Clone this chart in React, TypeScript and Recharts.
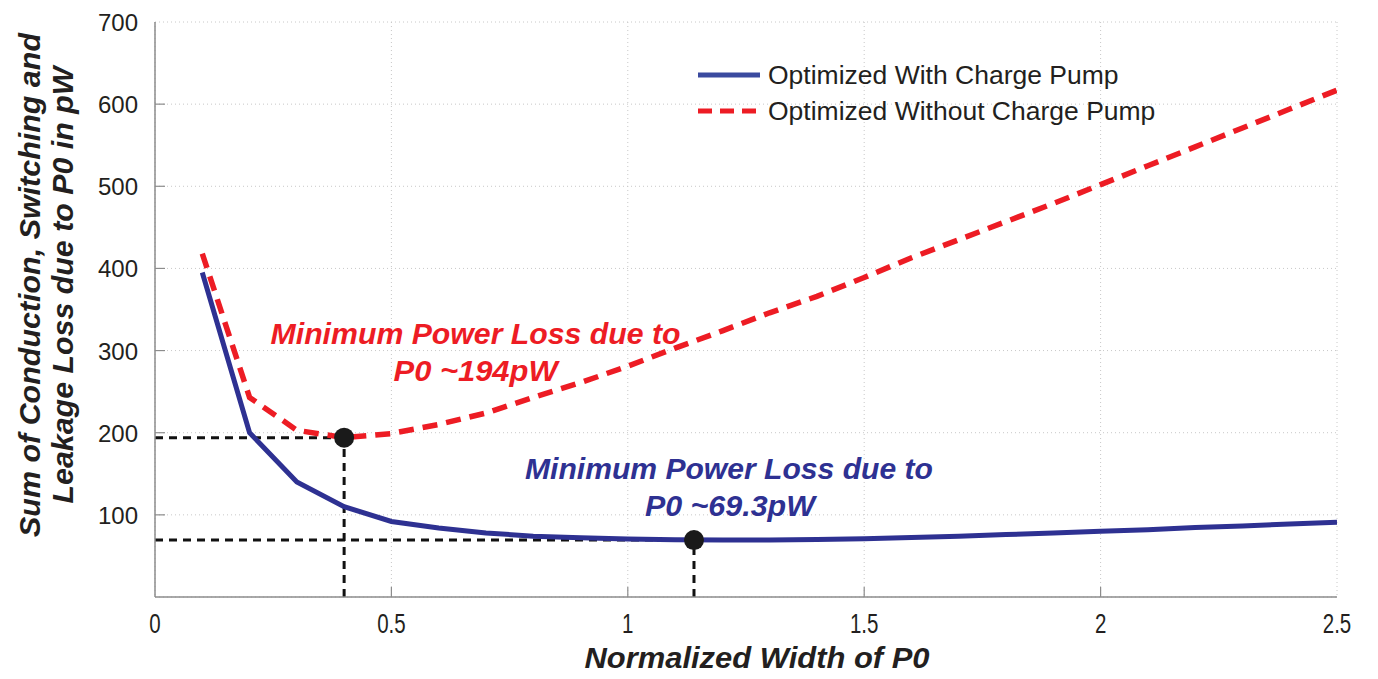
import React from "react";
import {
  ComposedChart,
  Line,
  Scatter,
  XAxis,
  YAxis,
  CartesianGrid,
  ReferenceLine,
  ReferenceDot,
  Legend,
} from "recharts";

// normalized width of P0
const widths = [
  0.1, 0.2, 0.3, 0.4, 0.5, 0.6, 0.7, 0.8, 0.9, 1.0, 1.1, 1.2, 1.3, 1.4, 1.5,
  1.6, 1.7, 1.8, 1.9, 2.0, 2.1, 2.2, 2.3, 2.4, 2.5,
];
// loss in pW
const withPump = [
  395, 200, 140, 110, 92, 84, 78, 74, 72, 70.5, 69.6, 69.3, 69.5, 70, 71, 72.5,
  74, 76, 78, 80, 82, 84.5, 86.5, 89, 91,
];
const withoutPump = [
  418, 243, 203, 194, 199, 210, 224, 243, 261, 281, 303, 324, 346, 366, 389,
  413, 435, 457, 479, 502, 525, 548, 571, 594, 617,
];

const xTicks = [0, 0.5, 1, 1.5, 2, 2.5];
const yTicks = [100, 200, 300, 400, 500, 600, 700];

// minimum points (width, loss)
const minima = [
  { w: 0.4, v: 194 },
  { w: 1.14, v: 69.3 },
];

const seriesNames = ["Optimized With Charge Pump", "Optimized Without Charge Pump"];

const BLUE = "#2e3192";
const RED = "#ed1c24";
const AXIS = "#8c8c8c";
const TXT = "#231f20";
const FONT = "'Liberation Sans', Arial, sans-serif";

const withData = widths.map((w, i) => ({ w, v: withPump[i] }));
const withoutData = widths.map((w, i) => ({ w, v: withoutPump[i] }));

const BottomTick = (props: any) => {
  const { x, y, payload } = props;
  return (
    <g>
      {payload.value !== 0 && payload.value !== 2.5 && (
        <line x1={x} x2={x} y1={y} y2={y - 10} stroke={AXIS} strokeWidth={1.2} />
      )}
      <text
        transform={`translate(${x}, ${y + 36}) scale(0.76, 1)`}
        textAnchor="middle"
        fontFamily={FONT}
        fontSize={27}
        fill={TXT}
      >
        {payload.value}
      </text>
    </g>
  );
};

const TopTick = (props: any) => {
  const { x, y, payload } = props;
  if (payload.value === 0 || payload.value === 2.5) return null;
  return <line x1={x} x2={x} y1={y} y2={y + 10} stroke={AXIS} strokeWidth={1.2} />;
};

const LeftTick = (props: any) => {
  const { x, y, payload } = props;
  return (
    <g>
      {payload.value !== 700 && (
        <line x1={x} x2={x + 10} y1={y} y2={y} stroke={AXIS} strokeWidth={1.2} />
      )}
      <text x={x - 17} y={y + 9} textAnchor="end" fontFamily={FONT} fontSize={24} fill={TXT}>
        {payload.value}
      </text>
    </g>
  );
};

const RightTick = (props: any) => {
  const { x, y, payload } = props;
  if (payload.value === 700) return null;
  return <line x1={x} x2={x - 10} y1={y} y2={y} stroke={AXIS} strokeWidth={1.2} />;
};

const LegendBox = () => (
  <div style={{ fontFamily: FONT, fontSize: 26.5, color: TXT }}>
    {seriesNames.map((name, i) => (
      <div key={name} style={{ display: "flex", alignItems: "center", height: 36 }}>
        <svg width={70} height={10}>
          <line
            x1={0}
            x2={62}
            y1={5}
            y2={5}
            stroke={i === 0 ? "#3a4a9f" : RED}
            strokeWidth={5}
            strokeDasharray={i === 0 ? undefined : "14 8"}
          />
        </svg>
        <span>{name}</span>
      </div>
    ))}
  </div>
);

const note = (text: string, color: string, len: number) => (p: any) => {
  const vb = p.viewBox || {};
  const cx = vb.x + (vb.width || 0) / 2;
  const cy = vb.y + (vb.height || 0) / 2;
  return (
    <text
      x={cx}
      y={cy + 11}
      textAnchor="middle"
      fontFamily={FONT}
      fontSize={30}
      fontWeight="bold"
      fontStyle="italic"
      fill={color}
      textLength={len}
      lengthAdjust="spacingAndGlyphs"
    >
      {text}
    </text>
  );
};

const XTitle = (p: any) => {
  const vb = p.viewBox;
  return (
    <text
      x={757 - 8}
      y={vb.y + 71}
      textAnchor="middle"
      fontFamily={FONT}
      fontSize={30}
      fontWeight="bold"
      fontStyle="italic"
      fill={TXT}
      textLength={345}
      lengthAdjust="spacingAndGlyphs"
    >
      Normalized Width of P0
    </text>
  );
};

const YTitle = () => (
  <g>
    <text
      transform="translate(21, 277) rotate(-90)"
      textAnchor="middle"
      dominantBaseline="central"
      fontFamily={FONT}
      fontSize={30}
      fontWeight="bold"
      fontStyle="italic"
      fill={TXT}
      textLength={504}
      lengthAdjust="spacingAndGlyphs"
    >
      Sum of Conduction, Switching and
    </text>
    <text
      transform="translate(54, 277) rotate(-90)"
      textAnchor="middle"
      dominantBaseline="central"
      fontFamily={FONT}
      fontSize={30}
      fontWeight="bold"
      fontStyle="italic"
      fill={TXT}
      textLength={437}
      lengthAdjust="spacingAndGlyphs"
    >
      Leakage  Loss due to P0 in pW
    </text>
  </g>
);

const dash = { stroke: "#111", strokeWidth: 3, strokeDasharray: "8 6" };

export default function App() {
  return (
    <ComposedChart
      width={1370}
      height={671}
      margin={{ top: 14, right: 41, left: 0, bottom: 0 }}
      style={{ background: "#fff" }}
    >
      <CartesianGrid stroke="#c8c8c8" strokeDasharray="1 3" />
      <XAxis
        type="number"
        dataKey="w"
        domain={[0, 2.5]}
        ticks={xTicks}
        height={82}
        allowDataOverflow
        axisLine={{ stroke: AXIS, strokeWidth: 1.5 }}
        tickLine={false}
        tickSize={0}
        tickMargin={0}
        tick={<BottomTick />}
        interval={0}
        label={<XTitle />}
      />
      <XAxis
        xAxisId="top"
        orientation="top"
        type="number"
        dataKey="w"
        domain={[0, 2.5]}
        ticks={xTicks}
        height={0}
        axisLine={{ stroke: AXIS, strokeWidth: 1.5 }}
        tickLine={false}
        tickSize={0}
        tick={<TopTick />}
        interval={0}
      />
      <YAxis
        type="number"
        domain={[0, 700]}
        ticks={yTicks}
        width={147}
        allowDataOverflow
        axisLine={{ stroke: AXIS, strokeWidth: 1.5 }}
        tickLine={false}
        tickSize={0}
        tickMargin={0}
        tick={<LeftTick />}
        interval={0}
        label={<YTitle />}
      />
      <YAxis
        yAxisId="right"
        orientation="right"
        type="number"
        domain={[0, 700]}
        ticks={yTicks}
        width={0}
        axisLine={{ stroke: AXIS, strokeWidth: 1.5 }}
        tickLine={false}
        tickSize={0}
        tick={<RightTick />}
        interval={0}
      />

      {minima.map((m) => (
        <ReferenceLine key={`h${m.w}`} segment={[{ x: 0, y: m.v }, { x: m.w, y: m.v }]} {...dash} />
      ))}
      {minima.map((m) => (
        <ReferenceLine key={`v${m.w}`} segment={[{ x: m.w, y: 0 }, { x: m.w, y: m.v }]} {...dash} />
      ))}

      <Line
        data={withData}
        dataKey="v"
        name={seriesNames[0]}
        stroke={BLUE}
        strokeWidth={5}
        dot={false}
        activeDot={false}
        isAnimationActive={false}
      />
      <Line
        data={withoutData}
        dataKey="v"
        name={seriesNames[1]}
        stroke={RED}
        strokeWidth={5.5}
        strokeDasharray="15 9"
        dot={false}
        activeDot={false}
        isAnimationActive={false}
      />
      <Scatter
        data={minima}
        dataKey="v"
        fill="#1a1a1a"
        isAnimationActive={false}
        shape={(p: any) => <circle cx={p.cx} cy={p.cy} r={10} fill="#1a1a1a" />}
      />

      <ReferenceDot x={0.678} y={321} r={0} stroke="none" fill="none"
        label={note("Minimum Power Loss due to", RED, 410)} />
      <ReferenceDot x={0.678} y={276} r={0} stroke="none" fill="none"
        label={note("P0 ~194pW", RED, 164)} />
      <ReferenceDot x={1.214} y={157} r={0} stroke="none" fill="none"
        label={note("Minimum Power Loss due to", BLUE, 408)} />
      <ReferenceDot x={1.216} y={112} r={0} stroke="none" fill="none"
        label={note("P0 ~69.3pW", BLUE, 170)} />

      <Legend
        layout="vertical"
        align="center"
        verticalAlign="middle"
        content={<LegendBox />}
        wrapperStyle={{ left: 690, top: 49, width: "auto" }}
      />
    </ComposedChart>
  );
}
